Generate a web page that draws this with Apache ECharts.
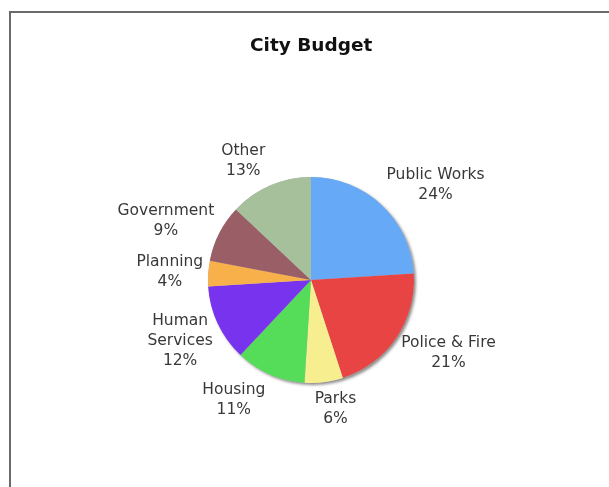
<!DOCTYPE html>
<html>
<head>
<meta charset="utf-8">
<script src="https://cdn.jsdelivr.net/npm/echarts@6/dist/echarts.min.js"></script>
<style>
html,body{margin:0;padding:0;background:#fff;}
#frame{position:absolute;left:9px;top:11px;width:600px;height:476px;border-left:2px solid #6a6a6a;border-top:2px solid #6a6a6a;box-sizing:border-box;}
#chart{position:absolute;left:0;top:0;width:609px;height:487px;}
</style>
</head>
<body>
<div id="frame"></div>
<div id="chart"></div>
<script>
const categories = ["Public Works", "Police & Fire", "Parks", "Housing", "Human Services", "Planning", "Government", "Other"];
const labelNames = ["Public Works", "Police & Fire", "Parks", "Housing", "Human\nServices", "Planning", "Government", "Other"];
const values = [24, 21, 6, 11, 12, 4, 9, 13];
const colors = ["#66aaf7", "#e84444", "#f7ee90", "#55dd5a", "#7733ee", "#f8b04a", "#9a5e66", "#a5c09a"];

const total = values.reduce((a, b) => a + b, 0);
// mid angle (radians, clockwise from 12 o'clock) of each slice, derived from the data
const midAngles = values.map((v, i) => {
  const before = values.slice(0, i).reduce((a, b) => a + b, 0);
  return (before + v / 2) / total * Math.PI * 2;
});

const PIE_CENTER = [311, 280];
const PIE_RADIUS = 103;

const chart = echarts.init(document.getElementById('chart'), null, {renderer: 'canvas'});
chart.setOption({
  backgroundColor: 'transparent',
  animation: false,
  title: {
    text: 'City Budget',
    left: 245,
    top: 32,
    textStyle: {fontFamily: 'DejaVu Sans', fontSize: 18.5, fontWeight: 'bold', color: '#111'}
  },
  series: [{
    // soft shadow under the whole disc
    type: 'pie',
    silent: true,
    center: PIE_CENTER,
    radius: PIE_RADIUS,
    z: 1,
    label: {show: false},
    labelLine: {show: false},
    itemStyle: {color: '#bbbbbb', shadowBlur: 3, shadowColor: 'rgba(0,0,0,0.45)', shadowOffsetX: 2, shadowOffsetY: 2},
    data: [{value: total, name: 'shadow'}]
  }, {
    type: 'pie',
    center: PIE_CENTER,
    radius: PIE_RADIUS,
    z: 2,
    startAngle: 90,
    clockwise: true,
    avoidLabelOverlap: false,
    label: {
      show: true,
      position: 'outside',
      distanceToLabelLine: 5,
      fontFamily: 'DejaVu Sans',
      fontSize: 15.5,
      lineHeight: 20,
      color: '#383838',
      formatter: p => labelNames[p.dataIndex] + '\n' + p.value + '%'
    },
    labelLine: {show: false, length: 0, length2: 0},
    labelLayout: function (p) {
      const a = midAngles[p.dataIndex];
      const sx = Math.sin(a), sy = -Math.cos(a);
      const w = p.labelRect.width, h = p.labelRect.height;
      const g = Math.min(1, Math.abs(sx) * 2.5);
      let dx = 0;
      if (p.align === 'left') dx = g * w / 2;
      else if (p.align === 'right') dx = -g * w / 2;
      return {align: 'center', verticalAlign: 'middle', dx: dx, dy: sy * 0.68 * h};
    },
    data: categories.map((c, i) => ({name: c, value: values[i], itemStyle: {color: colors[i]}}))
  }]
});
</script>
</body>
</html>
